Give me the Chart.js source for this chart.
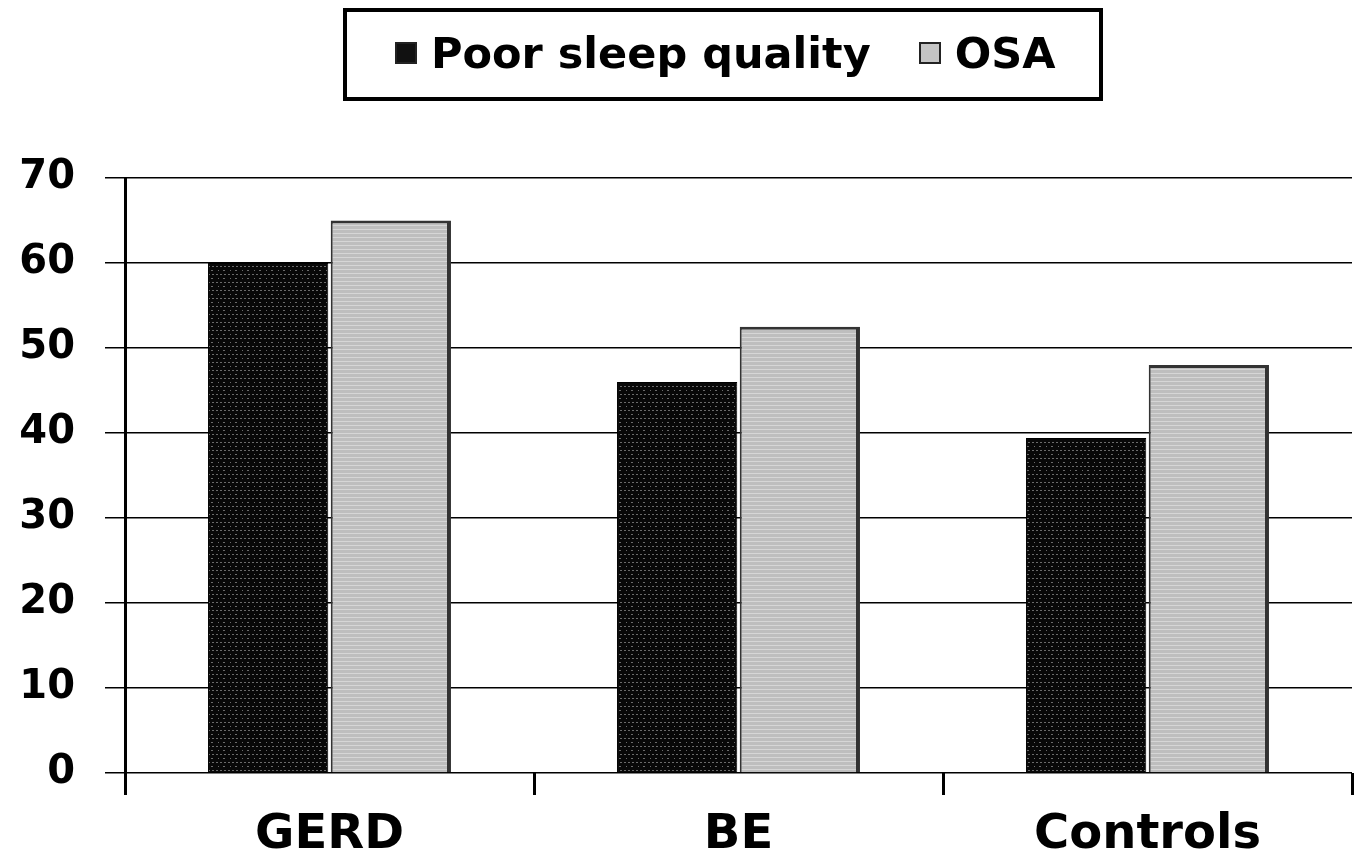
<!DOCTYPE html>
<html>
<head>
<meta charset="utf-8">
<script src="https://cdn.jsdelivr.net/npm/chart.js@4.4.1/dist/chart.umd.min.js"></script>
<style>
html,body{margin:0;padding:0;background:#fff;}
#wrap{position:relative;width:1360px;height:865px;}
#legend{position:absolute;left:343px;top:8px;width:760px;height:93px;border:4px solid #000;box-sizing:border-box;
display:flex;align-items:center;justify-content:flex-start;padding-left:48px;font-family:"DejaVu Sans",sans-serif;font-weight:bold;font-size:43px;color:#000;padding-bottom:4px;white-space:nowrap;overflow:hidden;}
.item{display:flex;align-items:center;margin-right:48px;flex-shrink:0;white-space:nowrap;}
.sw{width:22px;height:22px;border:2px solid #222;margin-right:14px;box-sizing:border-box;flex-shrink:0;}
</style>
</head>
<body>
<div id="wrap">
<canvas id="c" width="1360" height="865"></canvas>
<div id="legend"></div>
</div>
<script>
const categories = ["GERD", "BE", "Controls"];
const poorSleep = [60, 46, 39.4];
const osa = [65, 52.5, 48];
const seriesNames = ["Poor sleep quality", "OSA"];
const yTicks = [0, 10, 20, 30, 40, 50, 60, 70];

function makePattern(bg, fg, type){
  const p = document.createElement('canvas');
  p.width = 12; p.height = 8;
  const g = p.getContext('2d');
  g.fillStyle = bg; g.fillRect(0,0,12,8);
  g.fillStyle = fg;
  if(type==='dark'){
    g.fillRect(0,2,2,1); g.fillRect(4,2,2,1); g.fillRect(8,2,2,1);
    g.fillRect(2,6,1,1); g.fillRect(7,6,2,1);
  } else {
    g.fillRect(0,1,12,1); g.fillRect(0,5,12,1);
  }
  return document.getElementById('c').getContext('2d').createPattern(p,'repeat');
}
const darkPat = makePattern('#080808', '#6a6a6a', 'dark');
const lightPat = makePattern('#bebebe', '#d6d6d6', 'light');

const legendEl = document.getElementById('legend');
const swatchColors = ['#111', '#c4c4c4'];
seriesNames.forEach((n,i)=>{
  const it = document.createElement('div'); it.className='item';
  const sw = document.createElement('div'); sw.className='sw'; sw.style.background = swatchColors[i];
  const t = document.createElement('span'); t.textContent = n;
  it.appendChild(sw); it.appendChild(t); legendEl.appendChild(it);
});

const FONT = '"DejaVu Sans", sans-serif';
new Chart(document.getElementById('c'), {
  type: 'bar',
  data: {
    labels: categories,
    datasets: [
      {label: seriesNames[0], data: poorSleep, backgroundColor: darkPat, borderColor: '#000', borderWidth: 1,
       categoryPercentage: 0.6, barPercentage: 0.98},
      {label: seriesNames[1], data: osa, backgroundColor: lightPat, borderColor: '#333',
       borderWidth: {top: 3, right: 4, left: 2, bottom: 0},
       categoryPercentage: 0.6, barPercentage: 0.98}
    ]
  },
  options: {
    responsive: false,
    animation: false,
    layout: {padding: {top: 178, right: 8, left: 0, bottom: 0}},
    plugins: {legend: {display: false}, tooltip: {enabled: false}},
    scales: {
      x: {
        offset: true,
        grid: {display: true, drawOnChartArea: false, offset: true, tickLength: 22, tickWidth: 3, tickColor: '#000'},
        border: {display: false},
        ticks: {font: {family: FONT, size: 48, weight: 'bold'}, color: '#000', padding: 12},
        afterFit: s => { s.height = 92; }
      },
      y: {
        min: 0, max: 70,
        afterBuildTicks: s => { s.ticks = yTicks.map(v => ({value: v})); },
        grid: {color: '#000', lineWidth: 1.5, tickLength: 20, drawTicks: true},
        border: {display: true, color: '#000', width: 3},
        ticks: {font: {family: FONT, size: 40, weight: 'bold'}, color: '#000', padding: 30},
        afterFit: s => { s.width = 125; }
      }
    }
  }
});
</script>
</body>
</html>
